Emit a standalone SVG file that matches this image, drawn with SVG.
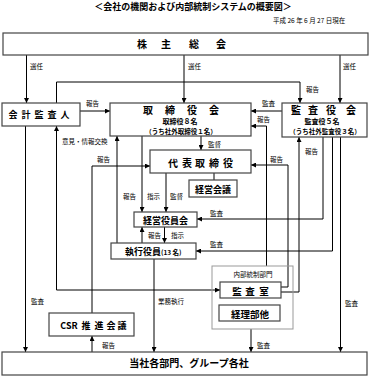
<svg xmlns="http://www.w3.org/2000/svg" width="384" height="391" viewBox="0 0 384 391">
<defs>
<marker id="ah" viewBox="0 0 6 6" refX="6" refY="3" markerWidth="5" markerHeight="5" markerUnits="userSpaceOnUse" orient="auto-start-reverse"><path d="M0,0 L6,3 L0,6 z" fill="#000"/></marker>
<style>
.box{fill:#fff;stroke:#444;stroke-width:1.2}
.grp{fill:none;stroke:#999;stroke-width:1}
.ln{fill:none;stroke:#000;stroke-width:1}
.ar{fill:none;stroke:#000;stroke-width:1;marker-end:url(#ah)}
.t{font-family:"Noto Sans CJK JP","Noto Sans CJK SC",sans-serif;font-weight:bold;fill:#000}
.lb{font-family:"Noto Sans CJK JP","Noto Sans CJK SC",sans-serif;font-size:6.5px;fill:#000}
.c{text-anchor:middle}
</style>
</defs>
<rect width="384" height="391" fill="#fff"/>
<text class="t c" x="193" y="9.5" font-size="9">＜会社の機関および内部統制システムの概要図＞</text>
<text class="lb" x="273" y="23" font-size="7">平成 26 年 6 月 27 日現在</text>

<g id="connectors">
<path class="ar" d="M26.5 55V103"/>
<path class="ar" d="M184 55V103"/>
<path class="ar" d="M340 55V103"/>
<path class="ar" d="M56.5 103V82H300V103"/>
<path class="ar" d="M80 111H110"/>
<path class="ar" d="M282 111H251"/>
<path class="ar" d="M266.5 266V126H251"/>
<path class="ar" d="M201 136V150"/>
<path class="ar" d="M281 287H288V165H251"/>
<path class="ar" d="M281 292H299V137"/>
<path class="ar" d="M323 137V219H197"/>
<path class="ar" d="M332.5 137V251H196"/>
<path class="ar" d="M340.5 137V352"/>
<path class="ar" d="M25.5 126V352"/>
<path class="ar" d="M220 290H56.5V126" style="marker-start:url(#ah)"/>
<path class="ar" d="M117 243V136"/>
<path class="ar" d="M142 136V212"/>
<path class="ar" d="M166 173V212"/>
<path class="ar" d="M92 313V166H150"/>
<path class="ln" d="M214 173V180"/>
<path class="ar" d="M142 243V227"/>
<path class="ar" d="M164.5 227V243"/>
<path class="ar" d="M154 259V352"/>
<path class="ar" d="M92 352V336"/>
<path class="ar" d="M251 329V352"/>
</g>

<g id="labels">
<text class="lb" x="30" y="68.5">選任</text>
<text class="lb" x="188" y="68.5">選任</text>
<text class="lb" x="343" y="68.5">選任</text>
<text class="lb" x="306" y="92">報告</text>
<text class="lb" x="86" y="106">報告</text>
<text class="lb" x="262" y="106">監査</text>
<text class="lb" x="257" y="122">報告</text>
<text class="lb" x="208" y="147">監督</text>
<text class="lb" x="270" y="162">報告</text>
<text class="lb" x="305" y="154">報告</text>
<text class="lb" x="210" y="216">監査</text>
<text class="lb" x="210" y="247">監査</text>
<text class="lb" x="345" y="306">監査</text>
<text class="lb" x="31" y="304">監査</text>
<text class="lb" x="62" y="144">意見・情報交換</text>
<text class="lb" x="97" y="162">報告</text>
<text class="lb" x="123" y="199">報告</text>
<text class="lb" x="147" y="199">指示</text>
<text class="lb" x="170" y="199">監督</text>
<text class="lb" x="148" y="238">報告</text>
<text class="lb" x="171" y="238">指示</text>
<text class="lb" x="158" y="304">業務執行</text>
<text class="lb" x="102" y="348">報告</text>
<text class="lb" x="257" y="348">監査</text>
</g>

<g id="n-kabunushi">
<rect class="box" x="3" y="33" width="365" height="22"/>
<text class="t c" x="142 166 194 221" y="48" font-size="10">株主総会</text>
</g>
<g id="n-kaikei">
<rect class="box" x="2" y="103" width="78" height="23"/>
<text class="t c" x="13 26 39 52 65" y="118" font-size="9">会計監査人</text>
</g>
<g id="n-torishimariyaku">
<rect class="box" x="110" y="103" width="141" height="33"/>
<text class="t c" x="148 170 192 214" y="113.5" font-size="10">取締役会</text>
<text class="t c" x="180" y="123.5" font-size="7">取締役８名</text>
<text class="t c" x="181" y="133.5" font-size="6.5">（うち社外取締役１名）</text>
</g>
<g id="n-kansayaku">
<rect class="box" x="282" y="103" width="85" height="34"/>
<text class="t c" x="296 313 331 351" y="113.5" font-size="10">監査役会</text>
<text class="t c" x="322" y="123.5" font-size="7">監査役５名</text>
<text class="t c" x="325" y="133.5" font-size="6.5">（うち社外監査役３名）</text>
</g>
<g id="n-daihyo">
<rect class="box" x="150" y="150" width="101" height="23"/>
<text class="t c" x="173 187 200 214 228" y="166.5" font-size="10">代表取締役</text>
</g>
<g id="n-keieikaigi">
<rect class="box" x="189" y="180" width="48" height="17"/>
<text class="t c" x="213" y="192.5" font-size="9">経営会議</text>
</g>
<g id="n-keieiyakuin">
<rect class="box" x="134" y="212" width="63" height="15"/>
<text class="t c" x="165.5" y="223.5" font-size="9">経営役員会</text>
</g>
<g id="n-shikko">
<rect class="box" x="111" y="243" width="85" height="16"/>
<text class="t" x="125" y="255" font-size="9">執行役員<tspan font-size="6.5">(13 名)</tspan></text>
</g>
<g id="n-naibu">
<rect class="grp" x="212" y="266" width="81" height="63"/>
<text class="lb c" x="253" y="277">内部統制部門</text>
</g>
<g id="n-kansashitsu">
<rect class="box" x="220" y="282" width="61" height="16"/>
<text class="t c" x="237 250 264" y="294.5" font-size="9.5">監査室</text>
</g>
<g id="n-keiri">
<rect class="box" x="219" y="305" width="61" height="16"/>
<text class="t c" x="250" y="317.5" font-size="9.5">経理部他</text>
</g>
<g id="n-csr">
<rect class="box" x="49" y="313" width="85" height="23"/>
<text class="t c" y="328.5" font-size="9"><tspan x="69">CSR</tspan><tspan x="86">推</tspan><tspan x="99">進</tspan><tspan x="111">会</tspan><tspan x="122">議</tspan></text>
</g>
<g id="n-kakubu">
<rect class="box" x="2" y="352" width="365" height="23"/>
<text class="t c" x="189" y="367" font-size="10">当社各部門、グループ各社</text>
</g>
</svg>
